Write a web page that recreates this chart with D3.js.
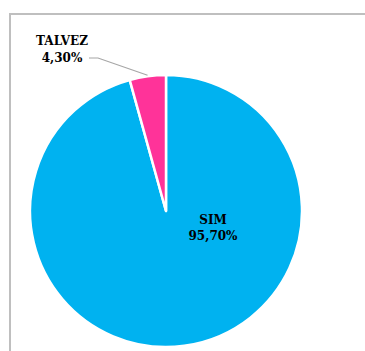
<!DOCTYPE html>
<html><head><meta charset="utf-8">
<script src="https://cdn.jsdelivr.net/npm/d3@7"></script>
<style>body{margin:0;background:#fff}</style>
</head><body>
<script>
const categories = ["SIM", "TALVEZ"];
const values = [95.7, 4.3];
const labels = ["95,70%", "4,30%"];
const colors = ["#00B2F0", "#FF3399"];

const W = 365, H = 351;
const svg = d3.select("body").append("svg").attr("width", W).attr("height", H);
// frame
svg.append("rect").attr("x", 10).attr("y", 14).attr("width", 400).attr("height", 400)
  .attr("fill", "none").attr("stroke", "#bfbfbf").attr("stroke-width", 2);

const cx = 166, cy = 211, r = 136;
const g = svg.append("g").attr("transform", `translate(${cx},${cy})`);
const pie = d3.pie().sort(null).value(d => d)(values);
const arc = d3.arc().innerRadius(0).outerRadius(r);
g.selectAll("path").data(pie).join("path")
  .attr("d", arc).attr("fill", (d, i) => colors[i])
  .attr("stroke", "#fff").attr("stroke-width", 2.5).attr("stroke-linejoin", "round");

const font = "'DejaVu Serif', Georgia, serif";
// SIM label
const sim = svg.append("text").attr("text-anchor", "middle").attr("font-family", font)
  .attr("font-weight", "bold").attr("font-size", 12).attr("fill", "#000");
sim.append("tspan").attr("x", 213).attr("y", 224).text(categories[0]);
sim.append("tspan").attr("x", 213).attr("y", 240).text(labels[0]);

// TALVEZ label
const tv = svg.append("text").attr("text-anchor", "middle").attr("font-family", font)
  .attr("font-weight", "bold").attr("font-size", 12).attr("fill", "#000");
tv.append("tspan").attr("x", 62).attr("y", 45).text(categories[1]);
tv.append("tspan").attr("x", 62).attr("y", 62).text(labels[1]);

// leader line: anchor to arc outer edge at slice mid angle
const mid = (pie[1].startAngle + pie[1].endAngle) / 2;
const ex = cx + Math.sin(mid) * (r + 1), ey = cy - Math.cos(mid) * (r + 1);
svg.append("path").attr("d", `M89,58 L98,58 L${ex},${ey}`)
  .attr("fill", "none").attr("stroke", "#a6a6a6").attr("stroke-width", 1.2);
</script>
</body></html>
